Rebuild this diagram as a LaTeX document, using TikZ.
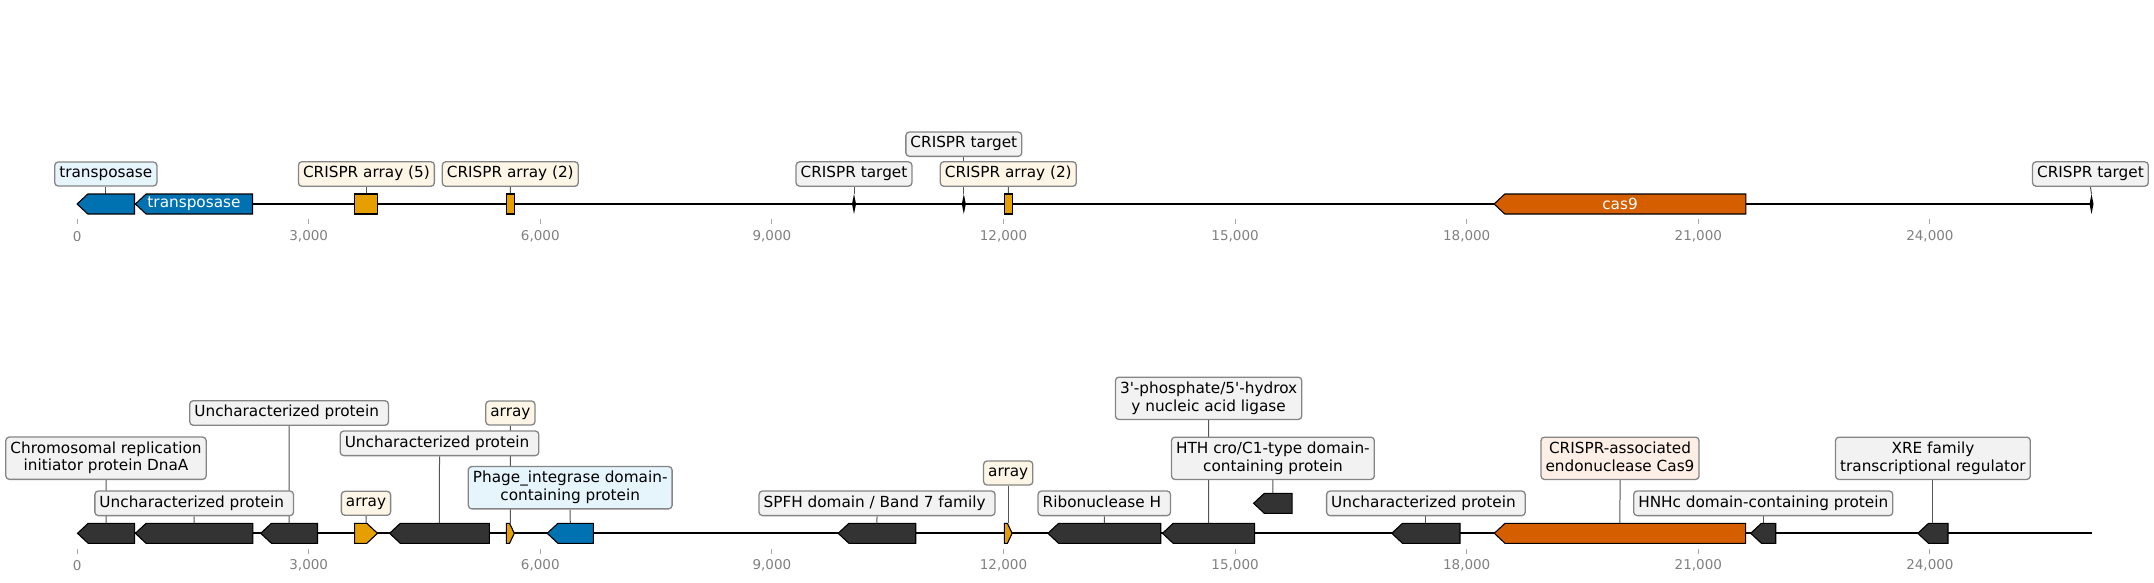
\documentclass[tikz,border=0pt]{standalone}
\usepackage{fontspec}
\setmainfont{DejaVu Sans}
\definecolor{cblue}{HTML}{0072B2}
\definecolor{corange}{HTML}{E69F00}
\definecolor{cred}{HTML}{D55E00}
\definecolor{cdark}{HTML}{333333}
\definecolor{lgray}{HTML}{F2F2F2}
\definecolor{lblue}{HTML}{E6F4FC}
\definecolor{lorange}{HTML}{FDF6E6}
\definecolor{lred}{HTML}{FDEFE6}
\definecolor{bordergray}{HTML}{858585}
\definecolor{conncol}{HTML}{555555}
\definecolor{tickcol}{HTML}{808080}
\pgfdeclarelayer{connlayer}
\pgfsetlayers{connlayer,main}
\newcommand{\lst}{\rule[-3.8pt]{0pt}{14.8pt}}
\newcommand{\tsp}{\kern4.86pt}
\newcommand{\featL}[5]{%
  \pgfmathsetmacro{\fhl}{min(10.7,0.6*(#2-#1))}%
  \draw[feat, fill=#4] (#1,#3) -- ({#1+\fhl},{#3-10}) -- (#2,{#3-10}) -- (#2,{#3+10}) -- ({#1+\fhl},{#3+10}) -- cycle;%
  \coordinate (#5) at ({(#1+#2)/2},{#3-10});%
}
\newcommand{\featR}[5]{%
  \pgfmathsetmacro{\fhl}{min(10.7,0.6*(#2-#1))}%
  \draw[feat, fill=#4] (#1,{#3-10}) -- ({#2-\fhl},{#3-10}) -- (#2,#3) -- ({#2-\fhl},{#3+10}) -- (#1,{#3+10}) -- cycle;%
  \coordinate (#5) at ({(#1+#2)/2},{#3-10});%
}
\newcommand{\featB}[5]{%
  \draw[feat, fill=#4] (#1,{#3-10}) rectangle (#2,{#3+10});%
  \coordinate (#5) at ({(#1+#2)/2},{#3-10});%
}
\newcommand{\ctarget}[3]{%
  \fill[black] (#1,{#2-10}) -- ({#1+2},#2) -- (#1,{#2+10}) -- ({#1-2},#2) -- cycle;%
  \coordinate (#3) at (#1,{#2-10});%
}
\tikzset{
  backbone/.style={line width=2pt, black},
  feat/.style={draw=black, line width=1.1pt, line join=miter},
  lbl/.style={draw=bordergray, line width=1.3pt, rounded corners=3.5pt, inner xsep=4.6pt, inner ysep=4.6pt, align=center, font=\fontsize{15.28}{17.7}\selectfont, text=black},
  conn/.style={draw=conncol, line width=1pt},
  tickmark/.style={draw=tickcol!70, line width=1pt},
  ticklbl/.style={text=tickcol, font=\fontsize{13.5}{16}\selectfont, inner sep=0pt},
  intxt/.style={text=white, font=\fontsize{15.28}{17.7}\selectfont, inner sep=0pt},
}
\begin{document}
\begin{tikzpicture}[x=1pt, y=-1pt]
\useasboundingbox (0,0) rectangle (2154,582);
% ---------------- top row ----------------
\coordinate (tstart) at (77.1,204);
\coordinate (tend) at (2091.5,204);
\draw[backbone] (tstart) -- (tend);
\foreach \k/\lab in {0/0,1/{3,000},2/{6,000},3/{9,000},4/{12,000},5/{15,000},6/{18,000},7/{21,000},8/{24,000}}{
  \draw[tickmark] ({77.1+231.6*\k},219.3) -- ({77.1+231.6*\k},223.8);
  \node[ticklbl] (ta\k) at ({77.1+231.6*\k},236.6) {\lab};
}
\featL{77.1}{134.5}{204}{cblue}{ft1}
\featL{135.4}{252.5}{204}{cblue}{ft2}
\node[intxt] (ft2txt) at (194,204) {transposase};
\featB{354.9}{377.9}{204}{corange}{ft3}
\featB{506.4}{514.2}{204}{corange}{ft4}
\ctarget{854}{204}{ft5}
\ctarget{963.8}{204}{ft6}
\featB{1004.2}{1012.5}{204}{corange}{ft7}
\featL{1494.1}{1745.8}{204}{cred}{ft8}
\node[intxt] (ft8txt) at (1620,204) {cas9};
\ctarget{2091.5}{204}{ft9}

\node[lbl, fill=lblue] (lt1) at (105.8,174) {\lst transposase};
\node[lbl, fill=lorange] (lt3) at (366.4,174) {\lst CRISPR array (5)};
\node[lbl, fill=lorange] (lt4) at (510.3,174) {\lst CRISPR array (2)};
\node[lbl, fill=lgray] (lt5) at (854,174) {\lst CRISPR target};
\node[lbl, fill=lgray] (lt6) at (963.8,144.2) {\lst CRISPR target};
\node[lbl, fill=lorange] (lt7) at (1008.3,174) {\lst CRISPR array (2)};
\node[lbl, fill=lgray] (lt9) at (2090.4,174) {\lst CRISPR target};

% ---------------- bottom row ----------------
\coordinate (bstart) at (77.5,533.3);
\coordinate (bend) at (2092,533.3);
\draw[backbone] (bstart) -- (bend);
\foreach \k/\lab in {0/0,1/{3,000},2/{6,000},3/{9,000},4/{12,000},5/{15,000},6/{18,000},7/{21,000},8/{24,000}}{
  \draw[tickmark] ({77.1+231.6*\k},549.3) -- ({77.1+231.6*\k},553.8);
  \node[ticklbl] (tb\k) at ({77.1+231.6*\k},565.5) {\lab};
}
\featL{77.5}{134.6}{533.3}{cdark}{fb1}
\featL{135.4}{252.9}{533.3}{cdark}{fb2}
\featL{260.7}{317.5}{533.3}{cdark}{fb3}
\featR{354.6}{377.5}{533.3}{corange}{fb4}
\featL{389.6}{489.3}{533.3}{cdark}{fb5}
\featR{506.4}{514.3}{533.3}{corange}{fb6}
\featL{547.2}{593.3}{533.3}{cblue}{fb7}
\featL{838.2}{915.7}{533.3}{cdark}{fb8}
\featR{1004.3}{1012.1}{533.3}{corange}{fb9}
\featL{1047.9}{1160.7}{533.3}{cdark}{fb10}
\featL{1162.5}{1254.6}{533.3}{cdark}{fb11}
\featL{1253.6}{1292.1}{503.3}{cdark}{fb12}
\featL{1391.8}{1460}{533.3}{cdark}{fb13}
\featL{1494.3}{1745.6}{533.3}{cred}{fb14}
\featL{1750.7}{1775.7}{533.3}{cdark}{fb15}
\featL{1917.8}{1948}{533.3}{cdark}{fb16}

\node[lbl, fill=lgray] (lb1) at (106,458.2) {\lst Chromosomal replication\\\lst initiator protein DnaA};
\node[lbl, fill=lgray] (lb2) at (194.2,503.3) {\lst Uncharacterized protein\tsp};
\node[lbl, fill=lgray] (lb3) at (289.1,413) {\lst Uncharacterized protein\tsp};
\node[lbl, fill=lorange] (lb4) at (366,503.3) {\lst array};
\node[lbl, fill=lgray] (lb5) at (439.5,443.3) {\lst Uncharacterized protein\tsp};
\node[lbl, fill=lorange] (lb6) at (510.4,413) {\lst array};
\node[lbl, fill=lblue] (lb7) at (570.2,487.7) {\lst Phage\_integrase domain-\\\lst containing protein};
\node[lbl, fill=lgray] (lb8) at (877,503.3) {\lst SPFH domain / Band 7 family\tsp};
\node[lbl, fill=lorange] (lb9) at (1008.2,473) {\lst array};
\node[lbl, fill=lgray] (lb10) at (1104.3,503.3) {\lst Ribonuclease H\tsp};
\node[lbl, fill=lgray] (lb11) at (1208.6,398.3) {\lst 3\textquotesingle-phosphate/5\textquotesingle-hydrox\\\lst y nucleic acid ligase};
\node[lbl, fill=lgray] (lb12) at (1272.9,458.3) {\lst HTH cro/C1-type domain-\\\lst containing protein};
\node[lbl, fill=lgray] (lb13) at (1425.9,503.3) {\lst Uncharacterized protein\tsp};
\node[lbl, fill=lred] (lb14) at (1620,458.3) {\lst CRISPR-associated\\\lst endonuclease Cas9};
\node[lbl, fill=lgray] (lb15) at (1763.2,503.3) {\lst HNHc domain-containing protein};
\node[lbl, fill=lgray] (lb16) at (1932.9,458.3) {\lst XRE family\\\lst transcriptional regulator};

% ---------------- connectors ----------------
\begin{pgfonlayer}{connlayer}
\foreach \n in {1,3,4,5,6,7,9}{ \draw[conn] (lt\n.south) -- (ft\n); }
\foreach \n in {1,2,...,16}{ \draw[conn] (lb\n.south) -- (fb\n); }
\end{pgfonlayer}
\end{tikzpicture}
\end{document}
